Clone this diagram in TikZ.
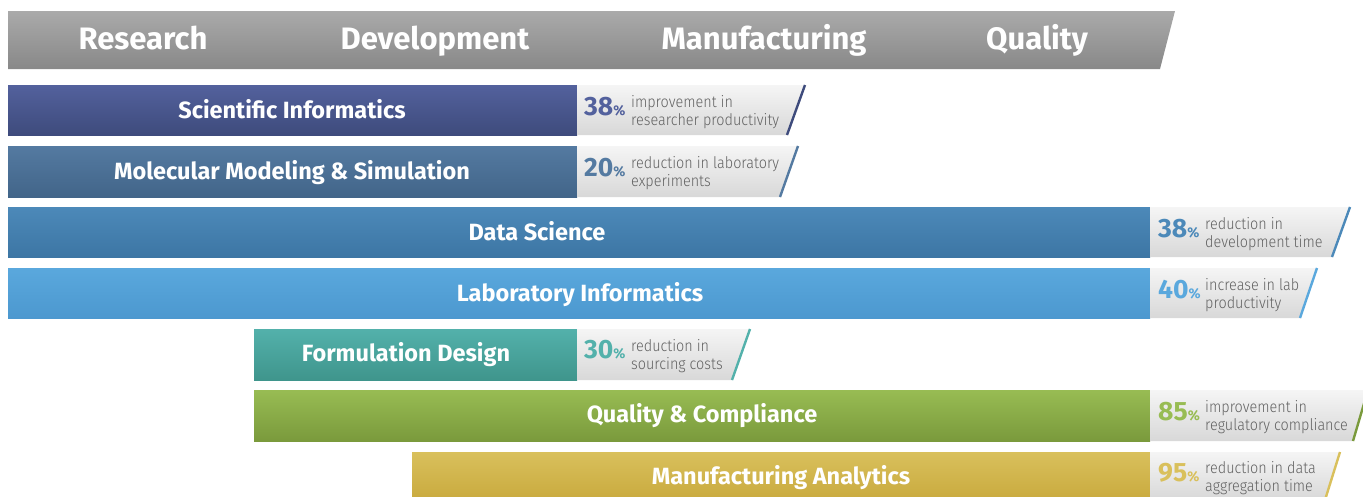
\documentclass[tikz,border=0pt]{standalone}
\usepackage{fontspec}
\setmainfont{Fira Sans}
\newfontfamily\lightfont[FakeStretch=0.9]{Fira Sans Light}
\definecolor{hdrtop}{RGB}{170,170,170}
\definecolor{hdrbot}{RGB}{136,136,136}
\definecolor{tagtop}{RGB}{245,245,245}
\definecolor{tagbot}{RGB}{216,216,216}
\definecolor{tagtxt}{RGB}{98,98,98}
\definecolor{scitop}{RGB}{83,97,157}
\definecolor{scibot}{RGB}{62,75,124}
\definecolor{moltop}{RGB}{84,122,161}
\definecolor{molbot}{RGB}{66,101,137}
\definecolor{dattop}{RGB}{76,137,185}
\definecolor{datbot}{RGB}{61,118,164}
\definecolor{labtop}{RGB}{90,168,221}
\definecolor{labbot}{RGB}{76,152,207}
\definecolor{fortop}{RGB}{83,177,171}
\definecolor{forbot}{RGB}{63,149,140}
\definecolor{qualtop}{RGB}{152,188,83}
\definecolor{qualbot}{RGB}{122,154,60}
\definecolor{mantop}{RGB}{217,192,92}
\definecolor{manbot}{RGB}{201,170,62}
\usetikzlibrary{positioning}

\begin{document}
\begin{tikzpicture}[x=1pt,y=-1pt,
  hdrtext/.style={anchor=base,text=white,font=\fontsize{31}{31}\selectfont\bfseries,inner sep=0pt},
  barlabel/.style={anchor=base,text=white,font=\fontsize{23.5}{23.5}\selectfont\bfseries,inner sep=0pt},
  pctnum/.style={anchor=base west,font=\fontsize{26.5}{26.5}\selectfont\bfseries,inner sep=0pt},
  tagtext/.style={anchor=west,text=tagtxt,align=left,font=\lightfont\fontsize{16}{18}\selectfont,inner sep=0pt},
  edge/.style={line width=2.4pt}]
\useasboundingbox (0,0) rectangle (1363,496);

%Shape: Header
\shade [top color=hdrtop,bottom color=hdrbot] (8,11) -- (1175,11) -- (1160,69) -- (8,69) -- cycle;
% Text Node
\node [hdrtext] (research) at (143,49) {Research};
\node [hdrtext] (develop) at (435,49) {Development};
\node [hdrtext] (manufact) at (764,49) {Manufacturing};
\node [hdrtext] (quality) at (1037,49) {Quality};

%Shape: Bar Scientific Informatics
\shade [top color=scitop,bottom color=scibot] (8,85) rectangle (577,135);
\shade [top color=tagtop,bottom color=tagbot] (577,85) -- (805,85) -- (787,135) -- (577,135) -- cycle;
\draw [edge,scibot] (805,85) -- (787,135);
\node [barlabel] (sci) at (292,118) {Scientific Informatics};
\node [pctnum,text=scitop] (sci-pct) at (584,115) {38{\fontsize{14}{14}\selectfont\%}};
\node [tagtext] (sci-txt) at (631,112) {improvement in\\researcher productivity};

%Shape: Bar Molecular Modeling
\shade [top color=moltop,bottom color=molbot] (8,146) rectangle (577,197);
\shade [top color=tagtop,bottom color=tagbot] (577,146) -- (798,146) -- (780,197) -- (577,197) -- cycle;
\draw [edge,moltop] (798,146) -- (780,197);
\node [barlabel] (mol) at (292,179) {Molecular Modeling \& Simulation};
\node [pctnum,text=moltop] (mol-pct) at (584,176) {20{\fontsize{14}{14}\selectfont\%}};
\node [tagtext] (mol-txt) at (631,173) {reduction in laboratory\\experiments};

%Shape: Bar Data Science
\shade [top color=dattop,bottom color=datbot] (8,207) rectangle (1150,257);
\shade [top color=tagtop,bottom color=tagbot] (1150,207) -- (1350,207) -- (1332,257) -- (1150,257) -- cycle;
\draw [edge,dattop] (1350,207) -- (1332,257);
\node [barlabel] (dat) at (537,240) {Data Science};
\node [pctnum,text=dattop] (dat-pct) at (1158,237) {38{\fontsize{14}{14}\selectfont\%}};
\node [tagtext] (dat-txt) at (1205,234) {reduction in\\development time};

%Shape: Bar Laboratory Informatics
\shade [top color=labtop,bottom color=labbot] (8,268) rectangle (1150,318);
\shade [top color=tagtop,bottom color=tagbot] (1150,268) -- (1317,268) -- (1300,318) -- (1150,318) -- cycle;
\draw [edge,labtop] (1317,268) -- (1300,318);
\node [barlabel] (lab) at (580,301) {Laboratory Informatics};
\node [pctnum,text=labtop] (lab-pct) at (1158,298) {40{\fontsize{14}{14}\selectfont\%}};
\node [tagtext] (lab-txt) at (1205,295) {increase in lab\\productivity};

%Shape: Bar Formulation Design
\shade [top color=fortop,bottom color=forbot] (254,329) rectangle (577,380);
\shade [top color=tagtop,bottom color=tagbot] (577,329) -- (750,329) -- (732,380) -- (577,380) -- cycle;
\draw [edge,fortop] (750,329) -- (732,380);
\node [barlabel] (form) at (406,361) {Formulation Design};
\node [pctnum,text=fortop] (form-pct) at (584,358) {30{\fontsize{14}{14}\selectfont\%}};
\node [tagtext] (form-txt) at (631,356) {reduction in\\sourcing costs};

%Shape: Bar Quality and Compliance
\shade [top color=qualtop,bottom color=qualbot] (254,390) rectangle (1150,441);
\shade [top color=tagtop,bottom color=tagbot] (1150,390) -- (1368,390) -- (1353,441) -- (1150,441) -- cycle;
\draw [edge,qualbot] (1368,390) -- (1353,441);
\node [barlabel] (qual) at (702,422) {Quality \& Compliance};
\node [pctnum,text=qualtop] (qual-pct) at (1158,420) {85{\fontsize{14}{14}\selectfont\%}};
\node [tagtext] (qual-txt) at (1205,417) {improvement in\\regulatory compliance};

%Shape: Bar Manufacturing Analytics
\shade [top color=mantop,bottom color=manbot] (412,452) rectangle (1150,500);
\shade [top color=tagtop,bottom color=tagbot] (1150,452) -- (1340,452) -- (1325,500) -- (1150,500) -- cycle;
\draw [edge,mantop] (1340,452) -- (1325,500);
\node [barlabel] (man) at (781,484) {Manufacturing Analytics};
\node [pctnum,text=mantop] (man-pct) at (1158,481) {95{\fontsize{14}{14}\selectfont\%}};
\node [tagtext] (man-txt) at (1205,478) {reduction in data\\aggregation time};

\end{tikzpicture}
\end{document}
